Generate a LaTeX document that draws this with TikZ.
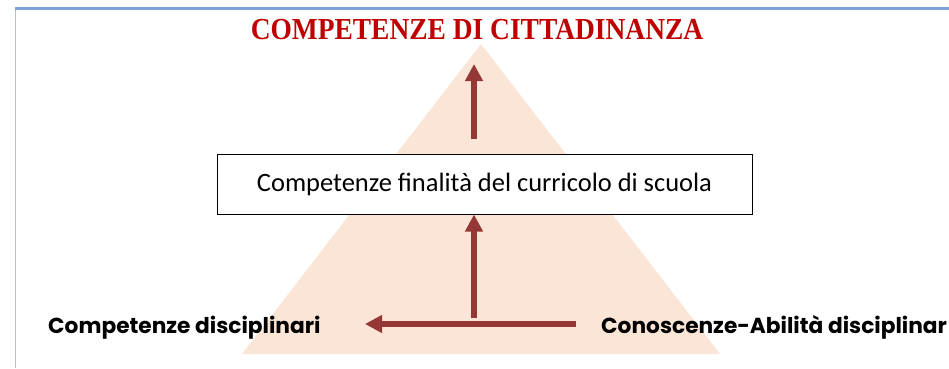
\documentclass[tikz,border=0pt]{standalone}
\usepackage{fontspec}
\setmainfont{Carlito}
\newfontfamily\titlefont[FakeStretch=0.9]{Liberation Serif}
\newfontfamily\gothfont{Poppins}
\usepackage{tikz}
\usetikzlibrary{arrows.meta,positioning}
\definecolor{peach}{HTML}{FBE5D6}
\definecolor{darkred}{HTML}{953735}
\definecolor{titlered}{HTML}{C00000}
\definecolor{topblue}{HTML}{7FA2D8}

\begin{document}
\begin{tikzpicture}[x=1pt,y=-1pt]
  \tikzstyle{titlenode} = [inner sep=0pt, text=titlered, font=\titlefont\bfseries\fontsize{30.5}{32}\selectfont]
  \tikzstyle{boxnode} = [draw=black, line width=1pt, fill=white, minimum width=535pt, minimum height=60pt, inner sep=0pt, font=\fontsize{26.5}{30}\selectfont]
  \tikzstyle{lnode} = [inner sep=0pt, anchor=base west, font=\gothfont\bfseries\fontsize{21.7}{25}\selectfont]
  \tikzstyle{redarrow} = [draw=darkred, line width=6pt, -{Triangle[length=17pt,width=17pt]}]

  \useasboundingbox (0,0) rectangle (949,368);
  \draw[topblue, line width=3pt] (15,8.5) -- (949,8.5);
  \draw[black!25, line width=0.8pt] (15,10) -- (15,368);

  % piramide
  \fill[peach] (481,44) -- (720,354) -- (242,354) -- cycle;

  \node[titlenode] (cit) at (477,29.5) {COMPETENZE DI CITTADINANZA};
  \node[boxnode] (fin) at (484.5,184) {Competenze finalità del curricolo di scuola};
  \node[lnode] (disc) at (48,333) {Competenze disciplinari};
  \node[lnode] (abil) at (601,333) {Conoscenze-Abilità disciplinar};

  \coordinate (up) at (474,64);
  \coordinate (top) at (474,139);
  \coordinate (vb) at (474,318);
  \coordinate (hr) at (576,324);
  \coordinate (hl) at (365,324);

  \draw[redarrow] (top) -- (up);
  \draw[redarrow] (vb) -- (fin.south -| vb);
  \draw[redarrow] (hr) -- (hl);
\end{tikzpicture}
\end{document}
